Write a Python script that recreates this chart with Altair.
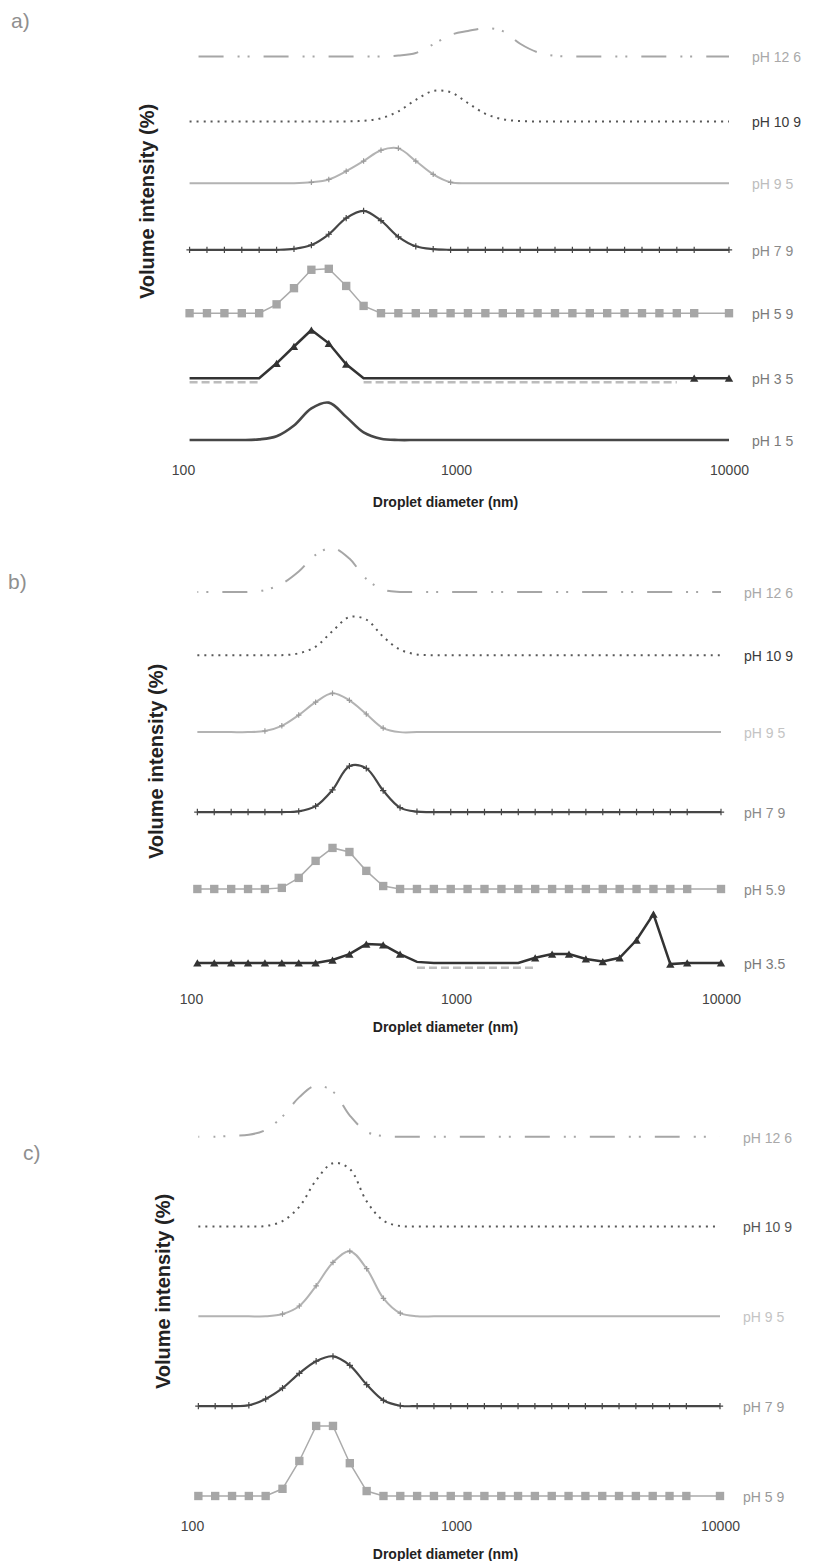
import altair as alt
import pandas as pd

# Droplet-size bins (nm) shared by every distribution
SIZE_NM = [105.7, 122.4, 141.8, 164.2, 190.1, 220.2, 255.0, 295.3, 342.0, 396.1,
           458.7, 531.2, 615.1, 712.4, 825.0, 955.4, 1106, 1281, 1484, 1718,
           1990, 2305, 2669, 3091, 3580, 4145, 4801, 5560, 6439, 7456, 10000]

# a) volume intensity (%) per bin
A_PH126 = [0, 0, 0, 0, 0, 0, 0, 0, 0, 0, 0, 0, 0.3, 1.1, 3.8, 6.8, 8.0, 8.9, 8.0, 4.0,
           1.3, 0.2, 0, 0, 0, 0, 0, 0, 0, 0, 0]
A_PH109 = [0, 0, 0, 0, 0, 0, 0, 0, 0, 0, 0.2, 1.0, 3.2, 6.8, 9.6, 9.2, 5.8, 2.4, 0.7, 0.1,
           0, 0, 0, 0, 0, 0, 0, 0, 0, 0, 0]
A_PH95 = [0, 0, 0, 0, 0, 0, 0, 0.3, 1.2, 3.8, 7.0, 10.4, 11.0, 7.0, 2.8, 0.3, 0, 0, 0, 0,
          0, 0, 0, 0, 0, 0, 0, 0, 0, 0, 0]
A_PH79 = [0, 0, 0, 0, 0, 0, 0.3, 1.5, 4.9, 10.0, 12.3, 9.2, 4.1, 1.1, 0.2, 0, 0, 0, 0, 0,
          0, 0, 0, 0, 0, 0, 0, 0, 0, 0, 0]
A_PH59 = [0, 0, 0, 0, 0, 2.8, 7.9, 13.7, 14.0, 8.6, 2.3, 0, 0, 0, 0, 0, 0, 0, 0, 0,
          0, 0, 0, 0, 0, 0, 0, 0, 0, 0, 0]
A_PH35 = [0, 0, 0, 0, 0, 4.7, 10.0, 15.2, 11.0, 4.4, 0, 0, 0, 0, 0, 0, 0, 0, 0, 0,
          0, 0, 0, 0, 0, 0, 0, 0, 0, 0, 0]
A_PH15 = [0, 0, 0, 0, 0.2, 1.2, 4.6, 10.0, 11.8, 7.3, 2.4, 0.4, 0, 0, 0, 0, 0, 0, 0, 0,
          0, 0, 0, 0, 0, 0, 0, 0, 0, 0, 0]
# bin ranges of the repeat pH 3.5 run drawn faintly under the main trace
A_PH35_REPEAT = [(0, 4), (10, 28)]

# b) volume intensity (%) per bin
B_PH126 = [0, 0, 0, 0, 0.5, 2.2, 5.5, 10.0, 11.9, 9.0, 3.5, 0.6, 0, 0, 0, 0, 0, 0, 0, 0,
           0, 0, 0, 0, 0, 0, 0, 0, 0, 0, 0]
B_PH109 = [0, 0, 0, 0, 0, 0, 0.5, 2.3, 6.5, 10.3, 9.6, 5.0, 1.5, 0.2, 0, 0, 0, 0, 0, 0,
           0, 0, 0, 0, 0, 0, 0, 0, 0, 0, 0]
B_PH95 = [0, 0, 0, 0, 0.3, 1.7, 4.6, 8.1, 10.5, 8.6, 4.9, 1.1, 0, 0, 0, 0, 0, 0, 0, 0,
          0, 0, 0, 0, 0, 0, 0, 0, 0, 0, 0]
B_PH79 = [0, 0, 0, 0, 0, 0, 0.2, 1.6, 6.0, 12.4, 11.8, 5.8, 1.2, 0.1, 0, 0, 0, 0, 0, 0,
          0, 0, 0, 0, 0, 0, 0, 0, 0, 0, 0]
B_PH59 = [0, 0, 0, 0, 0, 0.3, 3.0, 7.6, 11.1, 10.0, 4.9, 0.8, 0, 0, 0, 0, 0, 0, 0, 0,
          0, 0, 0, 0, 0, 0, 0, 0, 0, 0, 0]
B_PH35 = [0, 0, 0, 0, 0, 0, 0, 0, 0.8, 2.4, 5.1, 4.9, 2.4, 0.3, 0, 0, 0, 0, 0, 0,
          1.4, 2.4, 2.4, 1.1, 0.4, 1.4, 6.2, 13.2, -0.3, 0, 0]
B_PH35_REPEAT = [(13, 20)]

# c) volume intensity (%) per bin
C_PH126 = [0, 0, 0.2, 0.4, 1.5, 4.5, 8.8, 11.4, 10.0, 4.7, 1.1, 0.1, 0, 0, 0, 0, 0, 0, 0, 0,
           0, 0, 0, 0, 0, 0, 0, 0, 0, 0, 0]
C_PH109 = [0, 0, 0, 0, 0.1, 1.2, 4.4, 10.3, 14.1, 12.8, 5.6, 1.3, 0.1, 0, 0, 0, 0, 0, 0, 0,
           0, 0, 0, 0, 0, 0, 0, 0, 0, 0, 0]
C_PH95 = [0, 0, 0, 0, 0, 0.5, 2.3, 6.8, 12.0, 14.5, 10.6, 4.0, 0.7, 0, 0, 0, 0, 0, 0, 0,
          0, 0, 0, 0, 0, 0, 0, 0, 0, 0, 0]
C_PH79 = [0, 0, 0, 0.2, 1.6, 4.0, 7.3, 10.0, 11.1, 9.1, 4.8, 1.3, 0.1, 0, 0, 0, 0, 0, 0, 0,
          0, 0, 0, 0, 0, 0, 0, 0, 0, 0, 0]
C_PH59 = [0, 0, 0, 0, 0, 1.6, 7.8, 15.6, 15.6, 7.3, 1.1, 0, 0, 0, 0, 0, 0, 0, 0, 0,
          0, 0, 0, 0, 0, 0, 0, 0, 0, 0, 0]

NARROW = "Liberation Sans Narrow, Liberation Sans, Arial Narrow, sans-serif"
BOLD = "Liberation Sans, Arial, sans-serif"
PLUS = "M-1,0H1M0,-1V1"
SMOOTH = "catmull-rom"

STYLE = {
    "pH 12.6": dict(color="#a6a6a6", width=2.0, dash=[25, 14, 2, 8, 2, 14], interp=SMOOTH),
    "pH 10.9": dict(color="#585858", width=2.0, dash=[2, 5], interp=SMOOTH),
    "pH 9.5": dict(color="#b3b3b3", width=2.0, interp=SMOOTH,
                   marker=PLUS, mfill=False, mcolor="#9c9c9c", msize=30),
    "pH 7.9": dict(color="#464646", width=2.2, interp=SMOOTH,
                   marker=PLUS, mfill=False, mcolor="#464646", msize=40),
    "pH 5.9": dict(color="#ababab", width=1.5, interp="linear",
                   marker="square", mfill=True, mcolor="#a6a6a6", msize=70),
    "pH 3.5": dict(color="#333333", width=2.5, interp="linear",
                   marker="triangle-up", mfill=True, mcolor="#333333", msize=70),
    "pH 1.5": dict(color="#474747", width=2.6, interp=SMOOTH),
}


def panel(series, letter, letter_pos, x_domain, width, height, y_domain,
          y_title_pad, y_title_at, x_title_pad, dash_offset, repeat=None):
    x_enc = alt.X(
        "size:Q",
        scale=alt.Scale(type="log", domain=x_domain, nice=False),
        axis=alt.Axis(values=[100, 1000, 10000], format="d", grid=False, ticks=False,
                      domain=False, labelFlush=False, labelFont=NARROW, labelFontSize=14,
                      labelColor="#444444", labelPadding=4,
                      title="Droplet diameter (nm)", titleFont=BOLD, titleFontSize=14,
                      titleFontWeight="bold", titleColor="#222222",
                      titlePadding=x_title_pad, titleX=262),
    )
    y_enc = alt.Y(
        "y:Q",
        scale=alt.Scale(domain=y_domain, nice=False, zero=False),
        axis=alt.Axis(labels=False, ticks=False, domain=False, grid=False,
                      title="Volume intensity (%)", titleFont=BOLD, titleFontSize=20,
                      titleFontWeight="bold", titleColor="#222222",
                      titlePadding=y_title_pad, titleY=y_title_at),
    )
    under = []
    layers = []
    label_rows = []
    if repeat is not None:
        ranges, offset = repeat
        rows = []
        for seg, (i0, i1) in enumerate(ranges):
            for i in range(i0, i1 + 1):
                rows.append({"size": SIZE_NM[i], "y": offset - 1.3, "seg": seg})
        under.append(
            alt.Chart(pd.DataFrame(rows))
            .mark_line(color="#bcbcbc", strokeWidth=2.5, strokeDash=[8, 4])
            .encode(x=x_enc, y=y_enc, detail="seg:N")
        )
    for key, text, values, offset, text_color, marked in series:
        st = STYLE[key]
        df = pd.DataFrame({"size": SIZE_NM, "value": values})
        df["y"] = df["value"] + offset
        line_kw = dict(color=st["color"], strokeWidth=st["width"], interpolate=st["interp"])
        if "dash" in st:
            line_kw["strokeDash"] = st["dash"]
            if key == "pH 12.6":
                line_kw["strokeDashOffset"] = dash_offset
        layers.append(alt.Chart(df).mark_line(**line_kw).encode(x=x_enc, y=y_enc))
        if "marker" in st:
            pts = df if marked is None else df.iloc[marked]
            pt_kw = dict(shape=st["marker"], size=st["msize"], filled=st["mfill"],
                         opacity=1, color=st["mcolor"])
            if not st["mfill"]:
                pt_kw["strokeWidth"] = 1.2
            layers.append(alt.Chart(pts).mark_point(**pt_kw).encode(x=x_enc, y=y_enc))
        label_rows.append({"size": SIZE_NM[-1], "y": offset, "label": text, "c": text_color})
    labels = (
        alt.Chart(pd.DataFrame(label_rows))
        .mark_text(align="left", baseline="middle", dx=23, dy=2, font=NARROW, fontSize=14)
        .encode(x=x_enc, y=y_enc, text="label:N", color=alt.Color("c:N", scale=None))
    )
    tag = (
        alt.Chart(pd.DataFrame({"t": [letter]}))
        .mark_text(align="left", baseline="middle", font=NARROW, fontSize=21, color="#8f8f8f")
        .encode(x=alt.value(letter_pos[0]), y=alt.value(letter_pos[1]), text="t:N")
    )
    return alt.layer(*under, *layers, labels, tag).properties(width=width, height=height)


OFF_A = {"pH 12.6": 121, "pH 10.9": 100.5, "pH 9.5": 81, "pH 7.9": 60,
         "pH 5.9": 40, "pH 3.5": 19.5, "pH 1.5": 0}
OFF_B = {"pH 12.6": 100.3, "pH 10.9": 83.2, "pH 9.5": 62.4, "pH 7.9": 40.8,
         "pH 5.9": 20, "pH 3.5": 0}
OFF_C = {"pH 12.6": 80, "pH 10.9": 60, "pH 9.5": 40, "pH 7.9": 20, "pH 5.9": 0}

series_a = [
    ("pH 12.6", "pH 12 6", A_PH126, OFF_A["pH 12.6"], "#a9a9a9", None),
    ("pH 10.9", "pH 10 9", A_PH109, OFF_A["pH 10.9"], "#3a3a3a", None),
    ("pH 9.5", "pH 9 5", A_PH95, OFF_A["pH 9.5"], "#bdbdbd", list(range(7, 16))),
    ("pH 7.9", "pH 7 9", A_PH79, OFF_A["pH 7.9"], "#8a8a8a", None),
    ("pH 5.9", "pH 5 9", A_PH59, OFF_A["pH 5.9"], "#7a7a7a", None),
    ("pH 3.5", "pH 3 5", A_PH35, OFF_A["pH 3.5"], "#7a7a7a", [5, 6, 7, 8, 9, 29, 30]),
    ("pH 1.5", "pH 1 5", A_PH15, OFF_A["pH 1.5"], "#7a7a7a", None),
]
series_b = [
    ("pH 12.6", "pH 12 6", B_PH126, OFF_B["pH 12.6"], "#a9a9a9", None),
    ("pH 10.9", "pH 10 9", B_PH109, OFF_B["pH 10.9"], "#3a3a3a", None),
    ("pH 9.5", "pH 9 5", B_PH95, OFF_B["pH 9.5"], "#c4c4c4", list(range(4, 12))),
    ("pH 7.9", "pH 7 9", B_PH79, OFF_B["pH 7.9"], "#8a8a8a", None),
    ("pH 5.9", "pH 5.9", B_PH59, OFF_B["pH 5.9"], "#8a8a8a", None),
    ("pH 3.5", "pH 3.5", B_PH35, OFF_B["pH 3.5"], "#7a7a7a",
     [0, 1, 2, 3, 4, 5, 6, 7, 8, 9, 10, 11, 12, 20, 21, 22, 23, 24, 25, 26, 27, 28, 29, 30]),
]
series_c = [
    ("pH 12.6", "pH 12 6", C_PH126, OFF_C["pH 12.6"], "#a9a9a9", None),
    ("pH 10.9", "pH 10 9", C_PH109, OFF_C["pH 10.9"], "#555555", None),
    ("pH 9.5", "pH 9 5", C_PH95, OFF_C["pH 9.5"], "#c4c4c4", list(range(5, 13))),
    ("pH 7.9", "pH 7 9", C_PH79, OFF_C["pH 7.9"], "#999999", None),
    ("pH 5.9", "pH 5 9", C_PH59, OFF_C["pH 5.9"], "#999999", None),
]

chart_a = panel(series_a, "a)", (-172, 22), [100, 10000], 546, 459, [-5.99, 138.8],
                26, 201, 18, 56, repeat=(A_PH35_REPEAT, OFF_A["pH 3.5"]))
chart_b = panel(series_b, "b)", (-175, 54), [93.3, 10000], 538, 459, [-6.76, 117.3],
                17, 232, 14, 40, repeat=(B_PH35_REPEAT, OFF_B["pH 3.5"]))
chart_c = panel(series_c, "c)", (-160, 100), [92.45, 10000], 537, 461, [-4.23, 98.4],
                10, 237, 14, 24)

chart = (
    alt.vconcat(chart_a, chart_b, chart_c, spacing=20)
    .properties(padding={"left": 8, "top": 0, "right": 0, "bottom": 0})
    .configure_view(stroke=None)
)

chart.save("out.html", embed_options={"renderer": "svg", "actions": False})
